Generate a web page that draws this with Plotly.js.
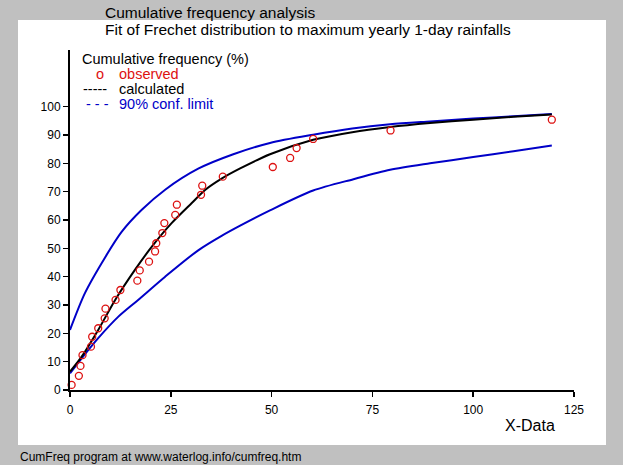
<!DOCTYPE html>
<html>
<head>
<meta charset="utf-8">
<script src="https://cdn.plot.ly/plotly-3.0.1.min.js"></script>
<style>
html,body{margin:0;padding:0;background:#c0c0c0;}
#chart{width:623px;height:465px;}
</style>
</head>
<body>
<div id="chart"></div>
<script>
// Observed points (X-Data, cumulative frequency %)
const obsX = [0.4, 2.2, 2.6, 3.1, 5.2, 5.5, 7.0, 8.6, 8.8, 11.3, 12.5, 16.7, 17.3, 19.6, 21.1, 21.4, 22.9, 23.4, 26.1, 26.5, 32.5, 32.8, 37.9, 50.3, 54.6, 56.2, 60.3, 79.5, 119.5];
const obsY = [1.8, 5.0, 8.5, 12.3, 15.3, 18.8, 21.8, 25.3, 28.7, 31.8, 35.3, 38.6, 42.2, 45.3, 48.9, 51.8, 55.4, 58.9, 61.8, 65.4, 68.9, 72.1, 75.3, 78.7, 81.9, 85.4, 88.6, 91.6, 95.4];

// Calculated (Frechet fit)
const calcX = [0, 2.9, 7.0, 11.2, 16.1, 20.3, 25.2, 30.2, 33.5, 37.6, 42.2, 49.6, 60.3, 70, 79.4, 89.3, 100, 110, 119.5];
const calcY = [6.5, 11.8, 21.2, 31.8, 42.4, 50.6, 58.9, 66.0, 70.6, 74.6, 78.2, 83.2, 88.3, 91.0, 92.8, 94.2, 95.4, 96.4, 97.2];

// 90% confidence limits
const upX = [0, 3.7, 8.7, 12.8, 17.8, 23.6, 31.8, 40.5, 49.6, 60.3, 70, 79.4, 89.3, 100, 110, 119.5];
const upY = [21.2, 34.2, 46.8, 55.8, 63.6, 70.7, 78.1, 83.2, 87.2, 90.1, 92.3, 93.8, 94.8, 95.8, 96.6, 97.4];
const loX = [0, 2.9, 7.0, 12.0, 16.9, 23.6, 31.8, 37.6, 42.2, 49.6, 60.3, 70.3, 79.4, 89.3, 100, 110, 119.5];
const loY = [5.9, 11.2, 18.3, 25.9, 31.8, 40.0, 49.3, 54.4, 58.0, 63.4, 70.4, 74.4, 77.7, 80.0, 82.2, 84.3, 86.3];

const xTicks = [0, 25, 50, 75, 100, 125];
const yTicks = [0, 10, 20, 30, 40, 50, 60, 70, 80, 90, 100];

const FONT = 'Liberation Sans, Arial, sans-serif';
const BLUE = '#0000c8';
const RED = '#dd1111';

const traces = [
  {x: upX, y: upY, mode: 'lines', line: {color: BLUE, width: 2, shape: 'spline', smoothing: 0.8}, hoverinfo: 'skip'},
  {x: loX, y: loY, mode: 'lines', line: {color: BLUE, width: 2, shape: 'spline', smoothing: 0.8}, hoverinfo: 'skip'},
  {x: calcX, y: calcY, mode: 'lines', line: {color: '#000000', width: 2, shape: 'spline', smoothing: 0.8}, hoverinfo: 'skip'},
  {x: obsX, y: obsY, mode: 'markers', marker: {symbol: 'circle-open', size: 7, color: RED, line: {color: RED, width: 1.3}}, cliponaxis: false}
];

function px2x(p){ return (p - 70) / 504; }
function px2y(p){ return (390 - p) / 340; }

function ann(text, px, py, color, size){
  return {text: text, xref: 'paper', yref: 'paper', x: px2x(px), y: px2y(py),
    xanchor: 'left', yanchor: 'middle', showarrow: false, borderpad: 0,
    font: {family: FONT, size: size, color: color}};
}

const layout = {
  width: 623, height: 465,
  paper_bgcolor: '#c0c0c0',
  plot_bgcolor: '#ffffff',
  showlegend: false,
  margin: {l: 70, r: 49, t: 50, b: 75, pad: 0},
  font: {family: FONT, size: 12, color: '#000'},
  xaxis: {range: [0, 125], tickvals: xTicks, ticktext: xTicks.map(String),
    showline: true, linecolor: '#000', linewidth: 2, ticks: 'outside', ticklen: 5, tickwidth: 1.5, tickcolor: '#000',
    ticklabelstandoff: 3,
    showgrid: false, zeroline: false, tickfont: {family: FONT, size: 12, color: '#000'}, fixedrange: true},
  yaxis: {range: [0, 120], tickvals: yTicks, ticktext: yTicks.map(String),
    showline: true, linecolor: '#000', linewidth: 2, ticks: 'outside', ticklen: 5, tickwidth: 1.5, tickcolor: '#000',
    showgrid: false, zeroline: false, tickfont: {family: FONT, size: 12, color: '#000'}, fixedrange: true},
  shapes: [
    {type: 'rect', xref: 'paper', yref: 'paper', layer: 'below',
      x0: px2x(18), x1: px2x(606), y0: px2y(445), y1: px2y(20),
      fillcolor: '#ffffff', line: {width: 0}}
  ],
  annotations: [
    ann('Cumulative frequency analysis', 104, 13, '#000', 15.5),
    ann('Fit of Frechet distribution to maximum yearly 1-day rainfalls', 104, 30, '#000', 15.5),
    ann('Cumulative frequency (%)', 81, 59, '#000', 14.5),
    ann('o', 95, 74, RED, 14.5),
    ann('observed', 118, 74, RED, 14.5),
    ann('-----', 82, 89, '#000', 14.5),
    ann('calculated', 118, 89, '#000', 14.5),
    ann('- - -', 85, 104, BLUE, 14.5),
    ann('90% conf. limit', 118, 104, BLUE, 14.5),
    ann('X-Data', 504, 425, '#000', 16),
    ann('CumFreq program at www.waterlog.info/cumfreq.htm', 19, 457, '#000', 12)
  ]
};

Plotly.newPlot('chart', traces, layout, {displayModeBar: false, staticPlot: true});
</script>
</body>
</html>
